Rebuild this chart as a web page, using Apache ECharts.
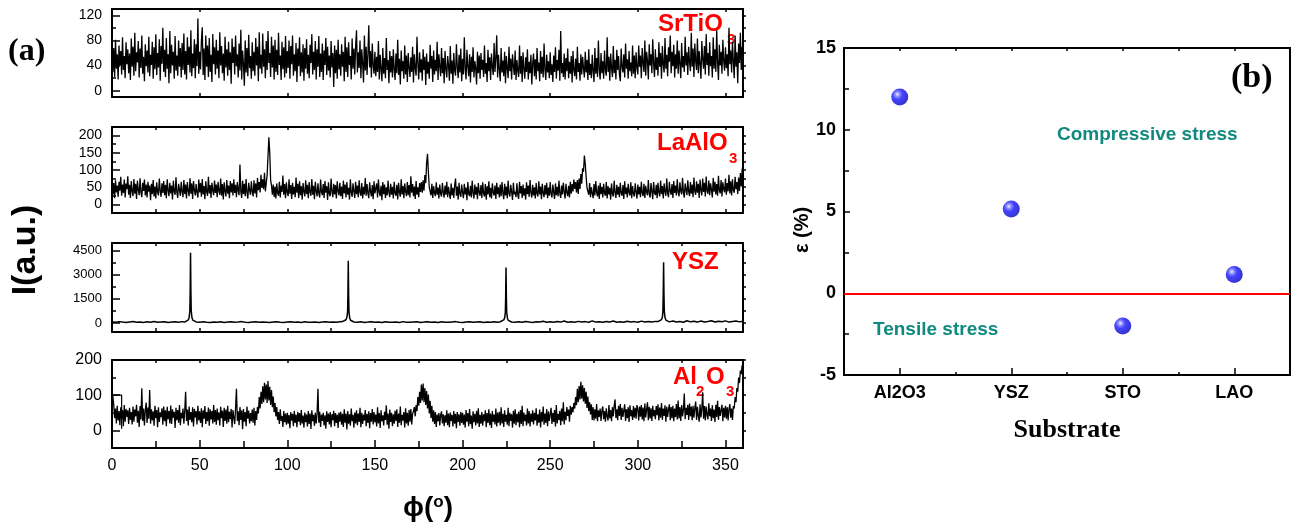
<!DOCTYPE html>
<html>
<head>
<meta charset="utf-8">
<script src="https://cdn.jsdelivr.net/npm/echarts@6.0.0/dist/echarts.min.js"></script>
<style>
  html, body { margin: 0; padding: 0; background: #fff; }
  #chart { width: 1291px; height: 527px; }
</style>
</head>
<body>
<div id="chart"></div>
<script>
// phi-scan intensities, one value every phiStep degrees from 0 to 360
const phiStep = 0.5;

const srtio3 = [
  75,30,68,22,81,35,58,18,72,40,63,26,85,33,55,20,77,42,66,28,
  59,17,83,38,70,24,92,31,61,45,79,21,67,36,88,27,54,15,74,39,
  64,29,86,23,57,41,78,19,69,34,90,25,60,37,82,16,71,43,100,30,
  65,22,84,35,58,12,95,28,73,40,62,19,87,32,56,24,80,38,68,21,
  76,33,91,26,63,18,85,41,70,29,96,23,59,36,82,20,74,39,115,27,
  62,34,79,101,25,67,17,88,38,72,22,84,30,57,14,90,42,69,26,81,
  35,64,20,93,40,71,28,59,16,86,37,66,24,78,33,61,11,83,44,70,
  26,88,39,58,21,75,32,97,18,64,43,8,80,29,68,23,89,36,55,19,
  77,31,62,24,84,40,70,15,93,35,57,27,91,38,66,20,79,33,95,44,
  60,22,86,37,72,18,81,30,65,25,92,41,56,17,78,34,69,21,87,28,
  63,36,80,19,71,42,88,24,58,31,76,14,67,39,85,23,61,29,74,16,
  68,35,82,27,57,20,73,44,90,26,62,33,79,18,66,38,87,22,59,30,
  75,17,64,41,84,25,70,32,56,21,79,37,60,6,72,28,65,19,81,34,
  58,24,74,38,62,15,86,30,69,22,77,41,55,18,83,35,67,26,71,96,
  29,61,36,80,20,66,43,13,88,32,70,25,58,104,37,63,21,75,40,27,
  62,23,54,30,79,18,57,35,15,68,27,52,20,84,33,49,12,63,29,55,
  21,66,34,17,59,28,81,25,51,10,64,31,47,19,72,26,56,14,60,37,
  22,53,30,70,13,58,36,24,86,42,18,61,29,50,16,66,33,54,9,59,
  27,46,19,73,35,55,14,64,26,49,31,78,17,58,38,23,68,28,52,12,
  63,34,21,55,40,16,71,27,48,11,60,32,24,74,37,20,57,29,67,15,
  51,26,85,35,18,65,39,23,58,13,54,30,69,21,47,36,10,62,28,56,
  19,60,33,49,22,72,27,44,14,65,31,53,17,59,37,25,76,30,52,88,
  21,57,34,15,68,29,48,23,62,12,55,36,20,70,31,51,18,58,39,25,
  64,17,49,32,22,72,27,55,14,61,35,19,53,30,66,18,46,28,57,10,
  43,59,23,50,18,68,31,45,15,63,27,54,21,75,34,17,57,29,47,20,
  61,25,42,14,56,30,69,19,49,32,65,16,95,28,44,22,59,18,52,31,
  67,20,46,27,55,13,63,33,23,51,18,70,30,44,16,58,26,54,36,21,
  62,29,49,17,66,25,43,20,57,31,14,68,27,52,22,80,34,18,60,28,
  47,19,64,32,24,85,30,54,16,59,36,22,71,28,49,18,65,33,55,26,
  15,67,38,29,58,21,75,35,50,19,63,31,45,23,72,27,56,20,61,37,
  26,72,38,56,20,68,44,30,80,24,62,47,18,74,40,58,28,82,43,22,
  66,33,53,24,77,38,60,19,71,42,29,84,35,57,23,69,46,88,28,62,
  39,73,21,58,35,80,27,64,43,20,76,37,55,30,86,40,61,25,70,45,
  31,92,38,67,22,75,47,33,83,28,63,42,19,79,50,35,71,26,90,41,
  60,24,77,39,55,21,85,35,66,30,96,44,17,73,40,62,27,81,47,32,
  69,36,58,23,100,42,64,29,78,46,20,88,38,61,12,75,44,92,33,70,
  48
];

const laalo3 = [
  78,30,62,18,70,35,55,22,66,40,80,25,58,33,72,20,61,44,82,28,
  57,19,68,38,24,74,31,60,16,69,42,27,76,35,21,63,39,72,26,58,
  20,66,37,55,12,60,30,71,23,52,17,64,36,26,75,40,22,61,33,68,
  27,57,18,73,41,24,63,32,55,14,69,37,28,79,35,19,60,43,25,66,
  38,21,71,30,58,17,65,39,24,76,31,61,16,68,42,26,59,34,20,72,
  35,62,22,74,29,53,15,67,37,25,80,32,56,19,63,40,27,69,33,58,
  21,66,39,28,75,25,59,14,64,38,23,71,31,55,18,68,35,61,26,73,
  33,57,21,65,40,27,116,36,19,69,30,60,24,74,34,17,63,41,28,67,
  37,23,70,32,61,20,77,41,65,35,86,48,73,44,92,38,62,85,140,195,
  150,70,55,28,58,22,52,17,61,33,25,66,20,55,36,84,28,59,18,64,
  35,24,73,31,56,16,63,29,51,21,78,34,60,19,67,27,53,14,62,37,
  23,70,30,57,18,65,36,25,74,28,54,15,66,38,23,61,32,20,72,35,
  27,59,19,68,34,53,13,64,30,24,75,37,21,60,29,56,17,67,39,26,
  63,24,52,16,69,32,58,20,65,28,48,14,73,34,22,61,38,19,66,30,
  55,21,70,35,25,62,17,51,29,77,25,59,33,18,64,37,23,56,15,67,
  32,27,61,20,72,36,24,54,12,65,30,58,19,50,26,69,34,21,60,28,
  51,17,66,32,25,57,14,63,35,22,73,29,53,18,61,37,24,65,27,56,
  20,82,34,59,24,52,16,68,28,50,21,62,36,65,34,70,40,85,62,120,
  147,95,50,38,26,60,19,53,33,24,64,28,49,17,58,31,23,62,35,20,
  55,28,66,21,51,32,16,61,26,48,19,56,75,25,52,14,63,30,22,58,
  34,18,60,29,49,12,65,31,24,54,20,69,33,17,58,28,51,15,62,35,
  25,56,19,64,32,23,59,14,53,29,67,21,48,17,61,34,26,55,16,63,
  30,50,20,58,24,65,33,15,60,26,52,18,69,31,23,57,36,13,63,29,
  37,21,61,28,16,66,32,53,19,58,25,47,14,64,30,55,22,71,34,20,
  57,26,50,17,62,31,23,67,29,52,15,60,33,21,56,28,63,18,49,25,
  65,30,20,58,35,16,61,27,51,23,69,32,19,55,29,63,36,17,60,34,
  24,54,20,66,31,59,38,72,45,65,35,71,30,75,45,88,60,105,95,142,
  118,80,48,53,28,62,21,50,33,18,59,26,68,35,23,55,16,63,30,51,
  20,60,32,25,65,17,53,29,48,14,61,31,23,69,34,19,57,28,51,21,
  63,33,25,56,16,67,30,49,20,60,35,26,64,18,53,31,23,61,36,17,
  58,29,51,21,66,33,24,60,19,54,36,26,71,31,20,62,38,15,65,34,
  27,57,18,63,35,23,69,30,53,17,61,37,25,75,32,21,66,39,28,59,
  19,68,33,55,26,73,36,23,64,39,29,77,35,20,61,42,27,70,37,24,
  65,31,58,21,78,38,28,67,34,60,19,72,41,26,75,36,63,23,81,39,
  31,69,27,61,43,20,77,37,66,29,59,25,83,40,32,71,23,64,45,35,
  75,28,62,38,86,32,67,26,73,41,34,80,44,65,30,78,39,91,52,100,
  115
];

// YSZ scan as [phi, intensity] pairs: flat background with four sharp reflections
const yszScan = [
  [0,70],[2,40],[4,85],[6,55],[8,30],[10,60],[12,90],[14,45],[16,65],[18,35],[20,75],[22,50],
  [24,95],[26,40],[28,60],[30,80],[32,35],[34,55],[36,70],[38,45],[40,85],[41.5,60],[42.5,110],
  [43.5,190],[44,330],[44.4,720],[44.6,1900],[44.8,4370],[45,2050],[45.2,760],[45.6,340],[46.1,180],
  [47,100],[48,65],[50,40],[52,75],[54,50],[56,30],[58,65],[60,45],[62,80],[64,35],[66,55],[68,70],
  [70,40],[72,60],[74,85],[76,45],[78,30],[80,55],[82,70],[84,40],[86,65],[88,50],[90,35],[92,60],
  [94,75],[96,45],[98,30],[100,55],[102,80],[104,40],[106,60],[108,35],[110,70],[112,50],[114,45],
  [116,65],[118,30],[120,55],[122,75],[124,40],[126,60],[128,45],[130,70],[131.5,85],[132.5,120],
  [133.5,200],[134,350],[134.4,680],[134.6,1750],[134.8,3860],[135,1800],[135.2,700],[135.6,320],
  [136.1,170],[137,95],[138,60],[140,45],[142,70],[144,35],[146,55],[148,80],[150,40],[152,60],
  [154,30],[156,75],[158,50],[160,45],[162,65],[164,35],[166,85],[168,50],[170,40],[172,60],[174,70],
  [176,35],[178,55],[180,80],[182,45],[184,60],[186,30],[188,70],[190,50],[192,40],[194,65],[196,85],
  [198,45],[200,35],[202,60],[204,75],[206,40],[208,55],[210,70],[212,30],[214,60],[216,45],[218,80],
  [220,50],[221.5,75],[222.5,115],[223.5,190],[224,320],[224.4,640],[224.6,1600],[224.8,3440],
  [225,1650],[225.2,650],[225.6,300],[226.1,160],[227,90],[228,60],[230,45],[232,70],[234,40],
  [236,95],[238,55],[240,35],[242,80],[244,60],[246,110],[248,45],[250,70],[252,40],[254,90],[256,55],
  [258,120],[260,50],[262,75],[264,40],[266,100],[268,60],[270,85],[272,45],[274,130],[276,55],
  [278,80],[280,40],[282,95],[284,60],[286,120],[288,50],[290,75],[292,45],[294,105],[296,60],
  [298,85],[300,50],[302,115],[304,65],[306,90],[308,55],[310,100],[311.5,90],[312.5,130],[313.5,210],
  [314,360],[314.3,700],[314.5,1800],[314.7,3780],[314.9,1850],[315.1,720],[315.5,340],[316,180],
  [317,110],[318,70],[320,125],[322,60],[324,95],[326,50],[328,140],[330,70],[332,105],[334,55],
  [336,120],[338,65],[340,90],[342,140],[344,60],[346,110],[348,75],[350,130],[352,55],[354,95],
  [356,120],[358,70],[360,100]
];

const al2o3 = [
  110,96,72,35,62,20,70,28,55,15,66,33,58,12,72,25,61,38,57,18,
  64,30,52,17,68,25,59,40,73,22,56,10,69,31,120,27,62,14,57,79,
  21,65,33,115,19,60,28,54,13,70,35,58,9,66,24,51,38,63,16,68,
  26,57,12,67,32,55,20,71,18,60,36,53,7,64,29,58,22,72,15,50,
  34,62,19,56,110,27,59,14,68,30,52,23,66,11,61,37,55,17,70,28,
  54,21,63,9,57,33,69,18,52,26,65,13,60,31,55,20,72,24,58,16,
  62,29,51,14,67,35,56,10,64,27,59,19,70,23,53,32,61,8,58,36,
  18,63,118,27,54,15,66,30,57,3,61,25,52,12,68,33,56,20,49,26,
  59,22,64,14,55,30,67,48,95,62,110,75,125,80,135,88,130,78,140,85,
  124,72,115,66,96,52,78,40,66,30,52,18,60,27,41,10,55,23,48,16,
  50,19,44,6,52,28,47,12,56,21,45,9,53,25,49,15,58,20,42,8,
  51,23,46,11,55,18,48,4,57,26,44,13,50,20,47,118,22,53,10,45,
  27,50,14,43,5,54,24,48,17,52,9,46,29,56,12,49,21,45,7,51,
  25,53,16,47,10,60,22,48,3,55,19,46,13,62,26,44,8,51,20,57,
  15,48,24,64,9,50,18,45,28,58,12,47,21,54,6,49,25,61,17,52,
  23,45,11,66,20,49,7,57,26,43,14,53,30,71,16,48,5,59,24,50,
  12,46,19,56,27,60,10,48,22,68,15,44,28,52,8,63,20,50,13,58,
  25,61,17,47,55,66,40,72,55,95,70,110,78,130,85,133,80,120,72,112,
  62,102,48,84,35,70,25,57,18,52,10,45,26,49,14,44,54,20,46,12,
  43,22,57,15,48,9,51,27,44,11,55,19,47,6,52,24,46,13,53,21,
  50,16,45,8,58,25,49,12,61,18,42,5,54,23,47,14,56,20,63,10,
  44,19,52,13,46,26,57,9,49,21,60,15,48,7,55,24,45,17,62,11,
  51,22,53,14,66,20,47,10,57,25,44,16,64,12,50,27,46,8,56,19,
  60,15,47,23,53,9,58,18,70,12,51,26,45,14,62,20,55,11,48,24,
  57,17,50,28,63,13,46,22,59,8,52,25,68,16,48,21,61,12,54,27,
  45,64,18,50,24,58,11,72,20,47,30,56,15,62,26,80,17,53,29,66,
  41,59,25,70,45,66,52,78,62,95,72,118,80,126,88,138,90,128,82,120,
  76,110,64,96,55,80,45,74,30,66,28,60,33,75,26,57,38,62,27,56,
  68,32,55,25,63,40,28,72,34,58,26,66,40,70,88,35,60,29,70,41,
  75,30,64,38,57,74,27,60,35,66,24,71,40,58,30,69,36,64,33,72,
  61,28,68,39,72,31,65,26,76,37,59,80,29,67,34,63,27,70,40,58,
  32,69,43,74,28,65,36,78,30,62,41,71,25,67,38,60,74,29,66,35,
  70,26,62,38,75,31,85,34,66,27,72,40,58,105,32,64,44,73,30,76,
  40,68,29,70,36,63,82,30,67,42,25,74,37,61,108,33,69,28,68,45,
  31,77,40,62,27,71,35,59,24,73,38,84,30,66,41,58,73,26,64,37,
  70,33,66,28,61,75,36,62,30,69,62,95,80,120,110,150,135,170,160,185,
  175
];
// short trace at the very start of the Al2O3 scan
const al2o3Start = [[0, 100], [5.5, 100], [5.5, 5]];

// panel (b): in-plane strain per substrate
const substrates = ['Al2O3', 'YSZ', 'STO', 'LAO'];
const strain = [12.0, 5.15, -2.0, 1.15];

// tick values of the four scan panels
const stoTicks = [0, 40, 80, 120],         stoMinor = [20, 60, 100];
const laoTicks = [0, 50, 100, 150, 200],   laoMinor = [25, 75, 125, 175];
const yszTicks = [0, 1500, 3000, 4500],    yszMinor = [750, 2250, 3750];
const al2o3Ticks = [0, 100, 200],          al2o3Minor = [50, 150];

const SANS = '"Liberation Sans", Arial, sans-serif';
const SERIF = '"Liberation Serif", "Times New Roman", serif';

const toPairs = arr => arr.map((v, i) => [i * phiStep, v]);

const panels = [
  { name: 'SrTiO3', data: toPairs(srtio3), min: -10, max: 130, major: stoTicks, minor: stoMinor, top: 9, height: 88, fs: 14, xMinor: false, lw: 1.3 },
  { name: 'LaAlO3', data: toPairs(laalo3), min: -25, max: 225, major: laoTicks, minor: laoMinor, top: 127, height: 86, fs: 14, xMinor: true, lw: 1.3 },
  { name: 'YSZ', data: yszScan, min: -560, max: 4970, major: yszTicks, minor: yszMinor, top: 243, height: 89, fs: 13, xMinor: true, lw: 1.5 },
  { name: 'Al2O3', data: toPairs(al2o3), min: -50, max: 200, major: al2o3Ticks, minor: al2o3Minor, top: 360, height: 88, fs: 16, xMinor: true, lw: 1.3 }
];

const axisLine = { show: true, onZero: false, lineStyle: { color: '#000', width: 2 } };
const tickLine = { color: '#000', width: 1.5 };
const plain = v => String(v);

const grids = [], xAxes = [], yAxes = [], series = [];

panels.forEach((p, i) => {
  const last = i === panels.length - 1;
  grids.push({ left: 112, top: p.top, width: 631, height: p.height, containLabel: false });
  // bottom phi axis
  xAxes.push({
    type: 'value', gridIndex: i, min: 0, max: 360, interval: 50, position: 'bottom',
    axisLine,
    axisTick: { show: true, inside: true, length: last ? 8 : 4, lineStyle: tickLine },
    minorTick: { show: p.xMinor, splitNumber: 2, length: last ? 7 : 4, lineStyle: tickLine },
    axisLabel: { show: last, fontSize: 16, color: '#000', margin: 10, fontFamily: SANS, formatter: plain },
    splitLine: { show: false }, minorSplitLine: { show: false }
  });
  // top frame edge
  xAxes.push({
    type: 'value', gridIndex: i, min: 0, max: 360, interval: 50, position: 'top',
    axisLine,
    axisTick: { show: true, inside: true, length: 3, lineStyle: tickLine },
    minorTick: { show: p.xMinor, splitNumber: 2, length: 3, lineStyle: tickLine },
    axisLabel: { show: false }, splitLine: { show: false }
  });
  // left intensity axis
  yAxes.push({
    type: 'value', gridIndex: i, min: p.min, max: p.max, position: 'left',
    axisLine,
    axisTick: { show: true, inside: true, length: 8, customValues: p.major, lineStyle: tickLine },
    axisLabel: { show: true, customValues: p.major, fontSize: p.fs, color: '#000', margin: 10, fontFamily: SANS, formatter: plain },
    splitLine: { show: false }
  });
  // left minor ticks
  yAxes.push({
    type: 'value', gridIndex: i, min: p.min, max: p.max, position: 'left',
    axisLine: { show: false },
    axisTick: { show: true, inside: true, length: 4, customValues: p.minor, lineStyle: tickLine },
    axisLabel: { show: false }, splitLine: { show: false }
  });
  // right frame edge
  yAxes.push({
    type: 'value', gridIndex: i, min: p.min, max: p.max, position: 'right',
    axisLine,
    axisTick: { show: true, inside: false, length: 3, customValues: p.major.concat(p.minor), lineStyle: tickLine },
    axisLabel: { show: false }, splitLine: { show: false }
  });
  series.push({
    name: p.name, type: 'line', xAxisIndex: 2 * i, yAxisIndex: 3 * i,
    data: p.data, showSymbol: false, symbol: 'none', silent: true,
    lineStyle: { color: '#000', width: p.lw }, clip: true
  });
});

series.push({
  name: 'Al2O3 start', type: 'line', xAxisIndex: 6, yAxisIndex: 9,
  data: al2o3Start, showSymbol: false, symbol: 'none', silent: true,
  lineStyle: { color: '#000', width: 1.2 }
});

// panel (b)
const gb = grids.length;
grids.push({ left: 844, top: 48, width: 446, height: 327, containLabel: false });
const xb = xAxes.length;
const catBase = {
  type: 'category', gridIndex: gb, data: substrates, boundaryGap: true,
  axisLine: { show: true, onZero: false, lineStyle: { color: '#000', width: 2 } },
  splitLine: { show: false }
};
xAxes.push(Object.assign({}, catBase, {
  position: 'bottom',
  axisTick: { show: true, inside: true, alignWithLabel: true, length: 7, lineStyle: tickLine },
  axisLabel: { show: true, fontSize: 18, fontWeight: 'bold', color: '#000', margin: 9, fontFamily: SANS }
}));
xAxes.push(Object.assign({}, catBase, {
  position: 'bottom',
  axisTick: { show: true, inside: true, length: 3, lineStyle: tickLine },
  axisLabel: { show: false }
}));
xAxes.push(Object.assign({}, catBase, {
  position: 'top',
  axisTick: { show: true, inside: true, alignWithLabel: true, length: 3, lineStyle: tickLine },
  axisLabel: { show: false }
}));
xAxes.push(Object.assign({}, catBase, {
  position: 'top',
  axisTick: { show: true, inside: true, length: 3, lineStyle: tickLine },
  axisLabel: { show: false }
}));
const yb = yAxes.length;
yAxes.push({
  type: 'value', gridIndex: gb, min: -5, max: 15, interval: 5, position: 'left',
  axisLine,
  axisTick: { show: true, inside: true, length: 6, lineStyle: tickLine },
  minorTick: { show: true, splitNumber: 2, length: 5, lineStyle: tickLine },
  axisLabel: { show: true, fontSize: 18, fontWeight: 'bold', color: '#000', margin: 8, fontFamily: SANS },
  splitLine: { show: false }, minorSplitLine: { show: false }
});
yAxes.push({
  type: 'value', gridIndex: gb, min: -5, max: 15, interval: 5, position: 'right',
  axisLine, axisTick: { show: false }, axisLabel: { show: false }, splitLine: { show: false }
});

series.push({
  name: 'strain', type: 'scatter', xAxisIndex: xb, yAxisIndex: yb,
  data: strain, symbol: 'circle', symbolSize: 17, z: 5,
  itemStyle: {
    color: {
      type: 'radial', x: 0.36, y: 0.34, r: 0.72,
      colorStops: [
        { offset: 0, color: '#f2f2ff' },
        { offset: 0.16, color: '#8080ff' },
        { offset: 0.42, color: '#1414ff' },
        { offset: 1, color: '#0000b4' }
      ]
    }
  },
  markLine: {
    silent: true, symbol: ['none', 'none'], label: { show: false },
    lineStyle: { color: '#ff0000', width: 2, type: 'solid' },
    data: [{ yAxis: 0 }]
  }
});

function txt(text, x, y, font, fill, opts) {
  return {
    type: 'text', x, y, silent: true,
    style: Object.assign({ text, font, fill, textAlign: 'left', textVerticalAlign: 'middle', verticalAlign: 'middle' }, opts || {})
  };
}
const red = '#ff0000', teal = '#10897f';
const lab = 'bold 24px ' + SANS, sub = 'bold 15px ' + SANS;

const yTitle = txt('I(a.u.)', 26, 250, 'bold 34px ' + SANS, '#000', { textAlign: 'center' });
yTitle.rotation = Math.PI / 2;
const epsTitle = txt('ε (%)', 802, 230, 'bold 20px ' + SANS, '#000', { textAlign: 'center' });
epsTitle.rotation = Math.PI / 2;

const graphic = [
  txt('(a)', 8, 52, 'bold 32px ' + SERIF, '#000'),
  txt('(b)', 1231, 78, 'bold 34px ' + SERIF, '#000'),
  txt('SrTiO', 658, 24, lab, red), txt('3', 727, 40, sub, red),
  txt('LaAlO', 657, 143, lab, red), txt('3', 729, 159, sub, red),
  txt('YSZ', 672, 262, lab, red),
  txt('Al', 673, 377, lab, red), txt('2', 696, 392, sub, red),
  txt('O', 706, 377, lab, red), txt('3', 726, 392, sub, red),
  txt('Compressive stress', 1057, 135, 'bold 19px ' + SANS, teal),
  txt('Tensile stress', 873, 330, 'bold 19px ' + SANS, teal),
  {
    type: 'text', x: 428, y: 508, silent: true,
    style: {
      text: '{a|ϕ(}{b|o}{a|)}', textAlign: 'center', verticalAlign: 'middle', textVerticalAlign: 'middle',
      rich: {
        a: { font: 'bold 28px ' + SANS, fill: '#000', verticalAlign: 'bottom' },
        b: { font: 'bold 17px ' + SANS, fill: '#000', verticalAlign: 'top' }
      }
    }
  },
  yTitle,
  epsTitle,
  txt('Substrate', 1067, 430, 'bold 26px ' + SERIF, '#000', { textAlign: 'center' })
];

const chart = echarts.init(document.getElementById('chart'), null, { renderer: 'canvas' });
chart.setOption({
  animation: false,
  backgroundColor: '#fff',
  grid: grids,
  xAxis: xAxes,
  yAxis: yAxes,
  series,
  graphic
});
</script>
</body>
</html>
